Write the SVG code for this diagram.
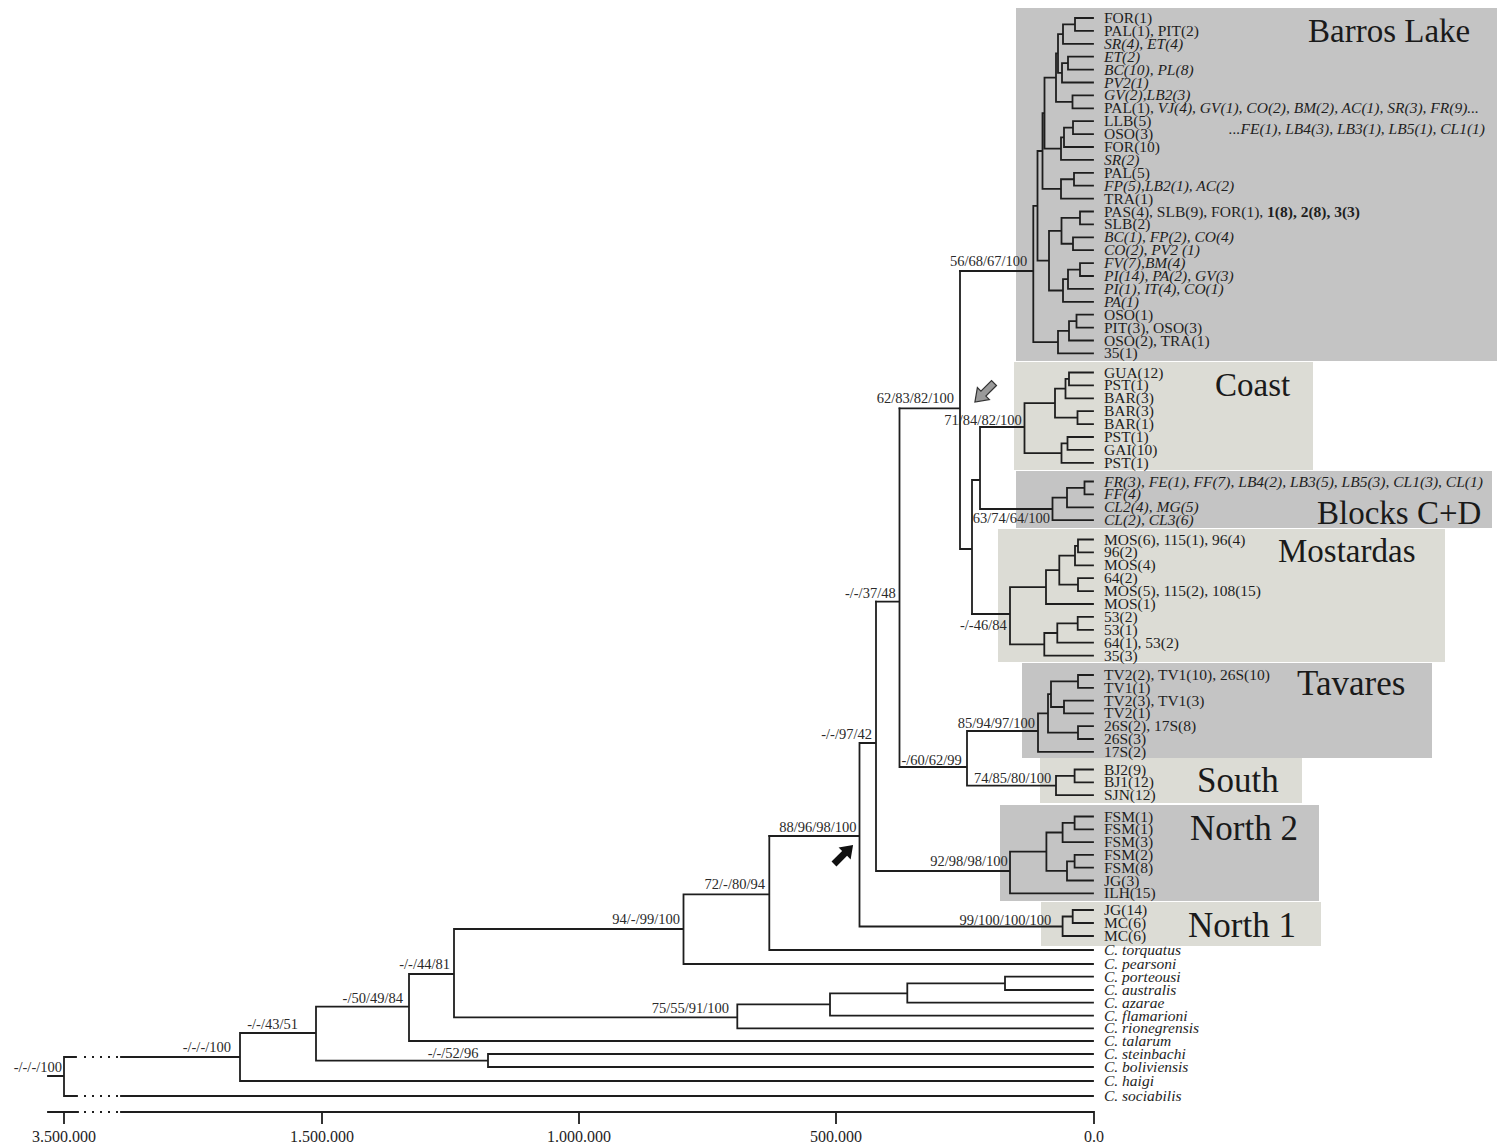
<svg xmlns="http://www.w3.org/2000/svg" width="1497" height="1148" viewBox="0 0 1497 1148">
<defs>
<style>
.lf{font-family:"Liberation Serif","Times New Roman",serif;font-size:15.5px;fill:#1e1e1e}
.it{font-style:italic}
.bd{font-weight:bold}
.sp{font-family:"Liberation Serif","Times New Roman",serif;font-size:14.5px;fill:#2a2a2a;text-anchor:end}
.ttl{font-family:"Liberation Serif","Times New Roman",serif;font-size:33px;fill:#1a1a1a}
.ttl2{font-size:35px}
.ax{font-family:"Liberation Serif","Times New Roman",serif;font-size:16px;fill:#1e1e1e;text-anchor:middle}
.dk{fill:#c4c4c4}
.lt{fill:#dcdcd5}
.br{fill:none;stroke:#1e1e1e;stroke-width:1.8;stroke-linecap:square}
.dot{fill:none;stroke:#1e1e1e;stroke-width:1.8;stroke-dasharray:2 6}
</style>
<path id="arr" d="M0,-3.5 L15,-3.5 L15,-8.5 L27,0 L15,8.5 L15,3.5 L0,3.5 Z"/>
</defs>
<rect width="1497" height="1148" fill="#ffffff"/>

<g id="boxes">
<rect id="box-barros" class="dk" x="1016" y="8" width="481" height="353"/>
<rect id="box-coast" class="lt" x="1014" y="362" width="299" height="108"/>
<rect id="box-blocks" class="dk" x="1016" y="471" width="476" height="57"/>
<rect id="box-mostardas" class="lt" x="998" y="529" width="447" height="133"/>
<rect id="box-tavares" class="dk" x="1022" y="663" width="410" height="95"/>
<rect id="box-south" class="lt" x="1040" y="758" width="262" height="45"/>
<rect id="box-north2" class="dk" x="1000" y="805" width="319" height="96"/>
<rect id="box-north1" class="lt" x="1041" y="902" width="280" height="44"/>
</g>

<g id="connectors">
<path class="br" d="M1075 18V30.9 M1063 24.45V43.8 M1068 56.7V69.6 M1062 63.15V82.5 M1058 34.1V72.8 M1072.5 95.4V108.3 M1056 53.45V101.85 M1073 121.2V134.1 M1064 127.65V147 M1061 137.3V159.9 M1044.5 77.65V148.6 M1074 172.8V185.7 M1061 179.25V198.6 M1042.5 113.1V188.9 M1080 211.5V224.4 M1073 237.3V250.2 M1061.5 217.95V243.75 M1080 263.1V276 M1068 269.55V288.9 M1063 279.2V301.8 M1049 230.85V290.5 M1037.5 151V260.7 M1076.5 314.7V327.6 M1069 321.15V340.5 M1058 330.8V353.4 M1033.3 205.85V342.1
M1075 18H1093 M1075 30.9H1093 M1063 43.8H1093 M1068 56.7H1093 M1068 69.6H1093 M1062 82.5H1093 M1072.5 95.4H1093 M1072.5 108.3H1093 M1073 121.2H1093 M1073 134.1H1093 M1064 147H1093 M1061 159.9H1093 M1074 172.8H1093 M1074 185.7H1093 M1061 198.6H1093 M1080 211.5H1093 M1080 224.4H1093 M1073 237.3H1093 M1073 250.2H1093 M1080 263.1H1093 M1080 276H1093 M1068 288.9H1093 M1063 301.8H1093 M1076.5 314.7H1093 M1076.5 327.6H1093 M1069 340.5H1093 M1058 353.4H1093
M1063 24.45H1075 M1058 34.1H1063 M1062 63.15H1068 M1058 72.8H1062 M1056 53.45H1058 M1056 101.85H1072.5 M1044.5 77.65H1056 M1064 127.65H1073 M1061 137.3H1064 M1044.5 148.6H1061 M1042.5 113.1H1044.5 M1061 179.25H1074 M1042.5 188.9H1061 M1037.5 151H1042.5 M1061.5 217.95H1080 M1061.5 243.75H1073 M1049 230.85H1061.5 M1068 269.55H1080 M1063 279.2H1068 M1049 290.5H1063 M1037.5 260.7H1049 M1033.3 205.85H1037.5 M1069 321.15H1076.5 M1058 330.8H1069 M1033.3 342.1H1058 M960 271H1033.3"/>
<path class="br" d="M1069 372.5V385.4 M1065.5 378.95V398.3 M1077.5 411.2V424.1 M1055 388.6V417.65 M1067.5 437V449.9 M1061.5 443.45V462.8 M1024.5 403.1V453.1
M1069 372.5H1093 M1069 385.4H1093 M1065.5 398.3H1093 M1077.5 411.2H1093 M1077.5 424.1H1093 M1067.5 437H1093 M1067.5 449.9H1093 M1061.5 462.8H1093
M1065.5 378.95H1069 M1055 388.6H1065.5 M1055 417.65H1077.5 M1024.5 403.1H1055 M1061.5 443.45H1067.5 M1024.5 453.1H1061.5 M980 427H1024.5
M1084.5 481.5V494.4 M1067 487.95V507.3 M1052.5 497.6V520.2
M1084.5 481.5H1093 M1084.5 494.4H1093 M1067 507.3H1093 M1052.5 520.2H1093
M1067 487.95H1084.5 M1052.5 497.6H1067 M980 509H1052.5
M980 427V509 M972 480H980 M972 480V614 M960 549H972 M960 271V549 M899.5 408.3H960"/>
<path class="br" d="M1078 539.5V552.4 M1075 545.95V565.3 M1078 578.2V591.1 M1059.3 555.6V584.65 M1046 570.1V604 M1077.7 616.9V629.8 M1057.3 623.35V642.7 M1044.3 633V655.6 M1010 587.05V644.3
M1078 539.5H1093 M1078 552.4H1093 M1075 565.3H1093 M1078 578.2H1093 M1078 591.1H1093 M1046 604H1093 M1077.7 616.9H1093 M1077.7 629.8H1093 M1057.3 642.7H1093 M1044.3 655.6H1093
M1075 545.95H1078 M1059.3 555.6H1075 M1059.3 584.65H1078 M1046 570.1H1059.3 M1010 587.05H1046 M1057.3 623.35H1077.7 M1044.3 633H1057.3 M1010 644.3H1044.3 M972 614H1010"/>
<path class="br" d="M1078 675V687.8 M1064 700.6V713.4 M1051 681.4V707 M1078 726.2V739 M1048 694.2V732.6 M1038 713.4V751.8
M1078 675H1093 M1078 687.8H1093 M1064 700.6H1093 M1064 713.4H1093 M1078 726.2H1093 M1078 739H1093 M1038 751.8H1093
M1051 681.4H1078 M1051 707H1064 M1048 694.2H1051 M1048 732.6H1078 M1038 713.4H1048 M967 731H1038
M1074.6 769.5V782.3 M1056 775.9V795.1
M1074.6 769.5H1093 M1074.6 782.3H1093 M1056 795.1H1093
M1056 775.9H1074.6 M967 785.7H1056
M967 731V785.7 M899.5 767H967 M899.5 408.3V767 M876 601.7H899.5"/>
<path class="br" d="M1074.6 816.5V829.3 M1062.6 822.9V842.1 M1074.6 854.9V867.7 M1067 861.3V880.5 M1046.4 832.5V870.9 M1010 851.7V893.3
M1074.6 816.5H1093 M1074.6 829.3H1093 M1062.6 842.1H1093 M1074.6 854.9H1093 M1074.6 867.7H1093 M1067 880.5H1093 M1010 893.3H1093
M1062.6 822.9H1074.6 M1046.4 832.5H1062.6 M1067 861.3H1074.6 M1046.4 870.9H1067 M1010 851.7H1046.4 M876 871H1010
M876 601.7V871 M859.5 743H876
M1072.7 910V923 M1062.6 916.5V936
M1072.7 910H1093 M1072.7 923H1093 M1062.6 936H1093
M1062.6 916.5H1072.7 M859.5 926.5H1062.6
M859.5 743V926.5 M769.3 836H859.5"/>
<path class="br" d="M769.3 836V950 M769.3 950H1093 M683.5 894.3H769.3 M683.5 894.3V964 M683.5 964H1093 M454 929H683.5
M1005 976.7V990 M1005 976.7H1093 M1005 990H1093 M907.3 983.3H1005 M907.3 983.3V1002.7 M907.3 1002.7H1093 M830 993.3H907.3 M830 993.3V1015.7 M830 1015.7H1093 M737.3 1004.3H830 M737.3 1004.3V1028.3 M737.3 1028.3H1093 M454 1017.3H737.3 M454 929V1017.3 M409 974H454 M409 974V1041 M409 1041H1093 M316 1006.7H409
M488 1054V1067 M488 1054H1093 M488 1067H1093 M316 1060.7H488 M316 1006.7V1060.7 M240 1033H316 M240 1033V1081 M240 1081H1093
M64 1057H76 M121 1057H240 M64 1057V1096 M64 1096H77 M121 1096H1093 M48 1076H64"/>
<path class="dot" d="M84 1057H118 M84 1096H118 M84 1112H118"/>
<path id="axis" class="br" d="M48 1112H78 M121 1112H1094 M64 1112V1123 M322 1112V1123 M579 1112V1123 M836 1112V1123 M1094 1112V1123"/>
</g>

<g id="arrows">
<use id="arrow-black" href="#arr" fill="#111" transform="translate(834,864) rotate(-45)"/>
<use id="arrow-grey" href="#arr" fill="#9a9a9a" stroke="#333" stroke-width="1.2" transform="translate(994,383) rotate(135)"/>
</g>

<g id="supports">
<text class="sp" x="1027.3" y="266">56/68/67/100</text>
<text class="sp" x="954" y="403.3">62/83/82/100</text>
<text class="sp" x="1021.7" y="425">71/84/82/100</text>
<text class="sp" x="1050" y="523.3">63/74/64/100</text>
<text class="sp" x="1006.7" y="630">-/-46/84</text>
<text class="sp" x="895.7" y="598.3">-/-/37/48</text>
<text class="sp" x="1035" y="728.3">85/94/97/100</text>
<text class="sp" x="961.8" y="765">-/60/62/99</text>
<text class="sp" x="1051.3" y="782.7">74/85/80/100</text>
<text class="sp" x="1007.7" y="866">92/98/98/100</text>
<text class="sp" x="872" y="739">-/-/97/42</text>
<text class="sp" x="856.5" y="831.7">88/96/98/100</text>
<text class="sp" x="1051.3" y="925">99/100/100/100</text>
<text class="sp" x="765" y="889">72/-/80/94</text>
<text class="sp" x="680" y="924">94/-/99/100</text>
<text class="sp" x="729" y="1013.3">75/55/91/100</text>
<text class="sp" x="450" y="969">-/-/44/81</text>
<text class="sp" x="403" y="1003">-/50/49/84</text>
<text class="sp" x="298" y="1029">-/-/43/51</text>
<text class="sp" x="478.4" y="1058.3">-/-/52/96</text>
<text class="sp" x="231" y="1052">-/-/-/100</text>
<text class="sp" x="62" y="1072">-/-/-/100</text>
</g>

<g id="clade-barros">
<text class="ttl" x="1308" y="42">Barros Lake</text>
<text class="lf" x="1104" y="23">FOR(1)</text>
<text class="lf" x="1104" y="35.9">PAL(1), PIT(2)</text>
<text class="lf it" x="1104" y="48.8">SR(4), ET(4)</text>
<text class="lf it" x="1104" y="61.7">ET(2)</text>
<text class="lf it" x="1104" y="74.6">BC(10), PL(8)</text>
<text class="lf it" x="1104" y="87.5">PV2(1)</text>
<text class="lf it" x="1104" y="100.4">GV(2),LB2(3)</text>
<text class="lf" x="1104" y="113.3">PAL(1), <tspan class="it">VJ(4), GV(1), CO(2), BM(2), AC(1), SR(3), FR(9)...</tspan></text>
<text class="lf it" x="1485" y="134" text-anchor="end">...FE(1), LB4(3), LB3(1), LB5(1), CL1(1)</text>
<text class="lf" x="1104" y="126.2">LLB(5)</text>
<text class="lf" x="1104" y="139.1">OSO(3)</text>
<text class="lf" x="1104" y="152">FOR(10)</text>
<text class="lf it" x="1104" y="164.9">SR(2)</text>
<text class="lf" x="1104" y="177.8">PAL(5)</text>
<text class="lf it" x="1104" y="190.7">FP(5),LB2(1), AC(2)</text>
<text class="lf" x="1104" y="203.6">TRA(1)</text>
<text class="lf" x="1104" y="216.5">PAS(4), SLB(9), FOR(1), <tspan class="bd">1(8), 2(8), 3(3)</tspan></text>
<text class="lf" x="1104" y="229.4">SLB(2)</text>
<text class="lf it" x="1104" y="242.3">BC(1), FP(2), CO(4)</text>
<text class="lf it" x="1104" y="255.2">CO(2), PV2 (1)</text>
<text class="lf it" x="1104" y="268.1">FV(7),BM(4)</text>
<text class="lf it" x="1104" y="281">PI(14), PA(2), GV(3)</text>
<text class="lf it" x="1104" y="293.9">PI(1), IT(4), CO(1)</text>
<text class="lf it" x="1104" y="306.8">PA(1)</text>
<text class="lf" x="1104" y="319.7">OSO(1)</text>
<text class="lf" x="1104" y="332.6">PIT(3), OSO(3)</text>
<text class="lf" x="1104" y="345.5">OSO(2), TRA(1)</text>
<text class="lf" x="1104" y="358.4">35(1)</text>
</g>

<g id="clade-coast">
<text class="ttl" x="1215" y="396">Coast</text>
<text class="lf" x="1104" y="377.5">GUA(12)</text>
<text class="lf" x="1104" y="390.4">PST(1)</text>
<text class="lf" x="1104" y="403.3">BAR(3)</text>
<text class="lf" x="1104" y="416.2">BAR(3)</text>
<text class="lf" x="1104" y="429.1">BAR(1)</text>
<text class="lf" x="1104" y="442">PST(1)</text>
<text class="lf" x="1104" y="454.9">GAI(10)</text>
<text class="lf" x="1104" y="467.8">PST(1)</text>
</g>

<g id="clade-blocks">
<text class="ttl" x="1317" y="524">Blocks C+D</text>
<text class="lf it" x="1104" y="486.5">FR(3), FE(1), FF(7), LB4(2), LB3(5), LB5(3), CL1(3), CL(1)</text>
<text class="lf it" x="1104" y="499.4">FF(4)</text>
<text class="lf it" x="1104" y="512.3">CL2(4), MG(5)</text>
<text class="lf it" x="1104" y="525.2">CL(2), CL3(6)</text>
</g>

<g id="clade-mostardas">
<text class="ttl" x="1278" y="562">Mostardas</text>
<text class="lf" x="1104" y="544.5">MOS(6), 115(1), 96(4)</text>
<text class="lf" x="1104" y="557.4">96(2)</text>
<text class="lf" x="1104" y="570.3">MOS(4)</text>
<text class="lf" x="1104" y="583.2">64(2)</text>
<text class="lf" x="1104" y="596.1">MOS(5), 115(2), 108(15)</text>
<text class="lf" x="1104" y="609">MOS(1)</text>
<text class="lf" x="1104" y="621.9">53(2)</text>
<text class="lf" x="1104" y="634.8">53(1)</text>
<text class="lf" x="1104" y="647.7">64(1), 53(2)</text>
<text class="lf" x="1104" y="660.6">35(3)</text>
</g>

<g id="clade-tavares">
<text class="ttl ttl2" x="1297" y="695">Tavares</text>
<text class="lf" x="1104" y="680">TV2(2), TV1(10), 26S(10)</text>
<text class="lf" x="1104" y="692.8">TV1(1)</text>
<text class="lf" x="1104" y="705.6">TV2(3), TV1(3)</text>
<text class="lf" x="1104" y="718.4">TV2(1)</text>
<text class="lf" x="1104" y="731.2">26S(2), 17S(8)</text>
<text class="lf" x="1104" y="744">26S(3)</text>
<text class="lf" x="1104" y="756.8">17S(2)</text>
</g>

<g id="clade-south">
<text class="ttl ttl2" x="1197" y="792">South</text>
<text class="lf" x="1104" y="774.5">BJ2(9)</text>
<text class="lf" x="1104" y="787.3">BJ1(12)</text>
<text class="lf" x="1104" y="800.1">SJN(12)</text>
</g>

<g id="clade-north2">
<text class="ttl ttl2" x="1190" y="840">North 2</text>
<text class="lf" x="1104" y="821.5">FSM(1)</text>
<text class="lf" x="1104" y="834.3">FSM(1)</text>
<text class="lf" x="1104" y="847.1">FSM(3)</text>
<text class="lf" x="1104" y="859.9">FSM(2)</text>
<text class="lf" x="1104" y="872.7">FSM(8)</text>
<text class="lf" x="1104" y="885.5">JG(3)</text>
<text class="lf" x="1104" y="898.3">ILH(15)</text>
</g>

<g id="clade-north1">
<text class="ttl ttl2" x="1188" y="937">North 1</text>
<text class="lf" x="1104" y="915">JG(14)</text>
<text class="lf" x="1104" y="928">MC(6)</text>
<text class="lf" x="1104" y="941">MC(6)</text>
</g>

<g id="outgroups">
<text class="lf it" x="1104" y="955">C. torquatus</text>
<text class="lf it" x="1104" y="969">C. pearsoni</text>
<text class="lf it" x="1104" y="981.7">C. porteousi</text>
<text class="lf it" x="1104" y="995">C. australis</text>
<text class="lf it" x="1104" y="1007.7">C. azarae</text>
<text class="lf it" x="1104" y="1020.7">C. flamarioni</text>
<text class="lf it" x="1104" y="1033.3">C. rionegrensis</text>
<text class="lf it" x="1104" y="1046">C. talarum</text>
<text class="lf it" x="1104" y="1059">C. steinbachi</text>
<text class="lf it" x="1104" y="1072">C. boliviensis</text>
<text class="lf it" x="1104" y="1086">C. haigi</text>
<text class="lf it" x="1104" y="1101">C. sociabilis</text>
</g>

<g id="axis-labels">
<text class="ax" x="64" y="1142">3.500.000</text>
<text class="ax" x="322" y="1142">1.500.000</text>
<text class="ax" x="579" y="1142">1.000.000</text>
<text class="ax" x="836" y="1142">500.000</text>
<text class="ax" x="1094" y="1142">0.0</text>
</g>
</svg>
